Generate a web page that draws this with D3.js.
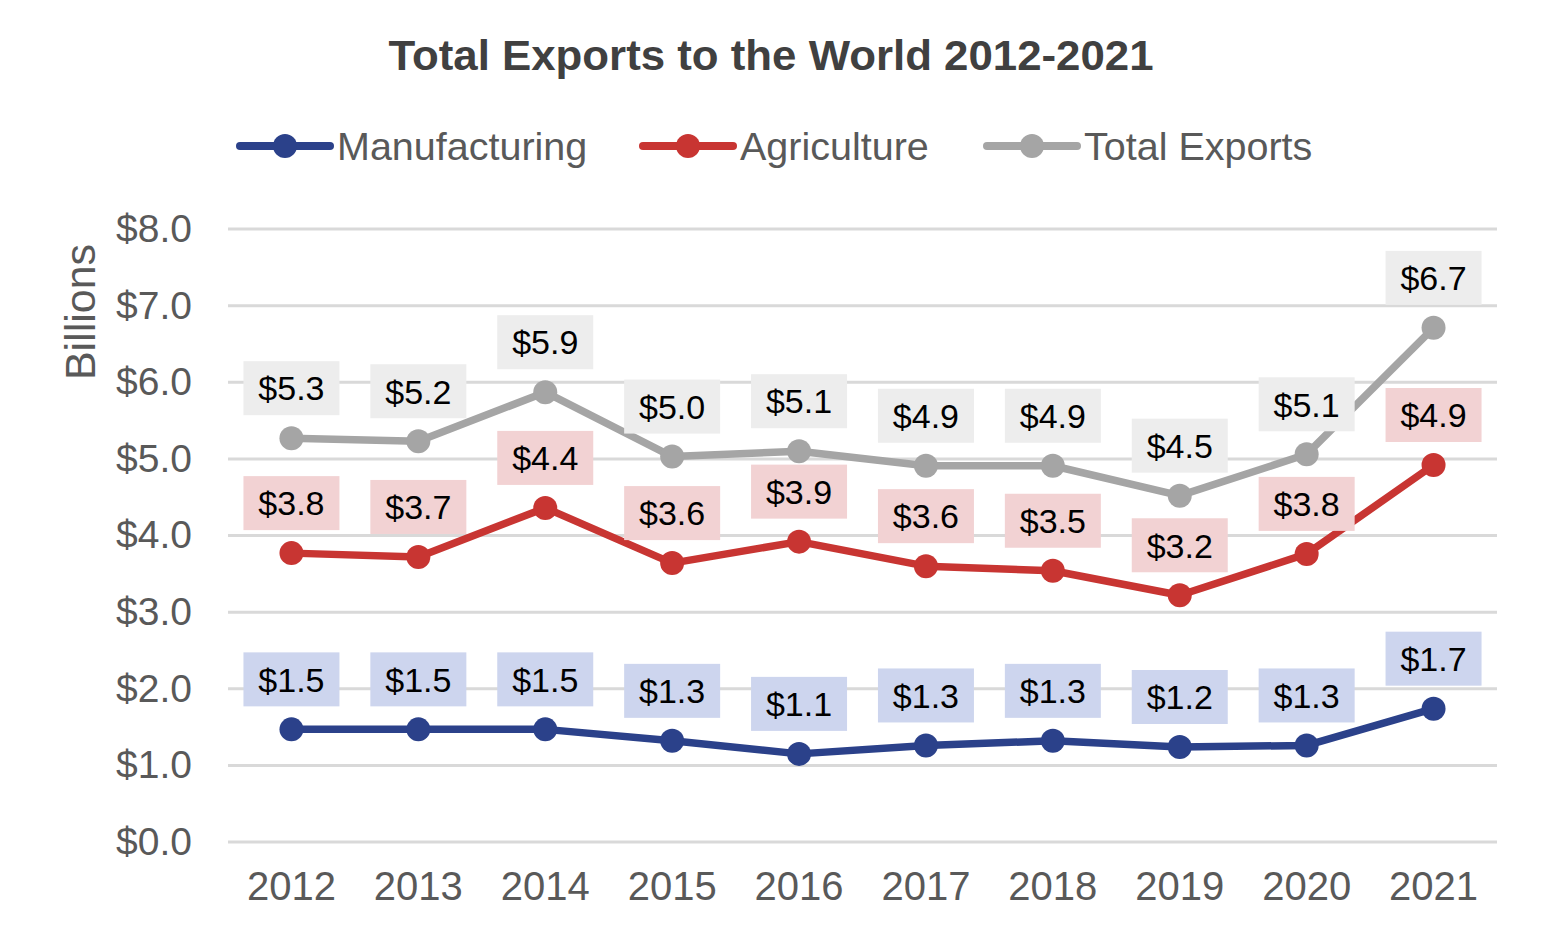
<!DOCTYPE html>
<html><head><meta charset="utf-8">
<script src="https://cdn.jsdelivr.net/npm/d3@7"></script>
<style>body{margin:0;background:#fff}svg{font-family:"Liberation Sans",Arial,sans-serif}</style>
</head><body>
<svg id="c" width="1544" height="936"></svg>
<script>
const years = ["2012","2013","2014","2015","2016","2017","2018","2019","2020","2021"];
const manufacturing = [1.47,1.47,1.47,1.32,1.15,1.26,1.32,1.24,1.26,1.74];
const agriculture = [3.77,3.72,4.36,3.64,3.92,3.60,3.54,3.22,3.76,4.92];
const totalExports = [5.27,5.23,5.87,5.03,5.10,4.91,4.91,4.52,5.06,6.71];
const yTicks = [0,1,2,3,4,5,6,7,8];
const seriesNames = ["Manufacturing","Agriculture","Total Exports"];
const seriesColors = ["#2b418a","#c83532","#a5a5a5"];
const labelFills = ["#cdd5ee","#f2d2d3","#ededed"];

const svg = d3.select("#c");
const x = d3.scaleBand().domain(years).range([228,1497]);
const y = d3.scaleLinear().domain([0,8]).range([842,229]);

svg.append("text").attr("x",771).attr("y",70).attr("text-anchor","middle")
  .attr("font-size",43).attr("font-weight","bold").attr("fill","#404040")
  .attr("textLength",765).attr("lengthAdjust","spacingAndGlyphs")
  .text("Total Exports to the World 2012-2021");

svg.append("g").selectAll("line").data(yTicks).join("line")
  .attr("x1",228).attr("x2",1497).attr("y1",d=>y(d)).attr("y2",d=>y(d))
  .attr("stroke","#d9d9d9").attr("stroke-width",3);

const yAxis = d3.axisLeft(y).tickValues(yTicks).tickFormat(d=>"$"+d3.format(".1f")(d)).tickSize(0).tickPadding(36);
const ya = svg.append("g").attr("transform","translate(228,0)").call(yAxis);
ya.select(".domain").remove();
ya.selectAll("text").attr("font-size",39).attr("fill","#595959").attr("font-family","Liberation Sans, Arial, sans-serif");

const xAxis = d3.axisBottom(x).tickSize(0).tickPadding(30);
const xa = svg.append("g").attr("transform","translate(0,842)").call(xAxis);
xa.select(".domain").remove();
xa.selectAll("text").attr("font-size",40).attr("fill","#595959").attr("font-family","Liberation Sans, Arial, sans-serif");

svg.append("text").attr("transform","translate(95,312) rotate(-90)").attr("text-anchor","middle")
  .attr("font-size",43).attr("fill","#595959").text("Billions");

const cx = d => x(d)+x.bandwidth()/2;
const allSeries = [manufacturing, agriculture, totalExports];
allSeries.forEach((vals,i)=>{
  const data = years.map((yr,j)=>({yr, v:vals[j]}));
  const g = svg.append("g");
  g.append("path").datum(data)
    .attr("d", d3.line().x(d=>cx(d.yr)).y(d=>y(d.v)))
    .attr("fill","none").attr("stroke",seriesColors[i]).attr("stroke-width",7.5).attr("stroke-linejoin","round");
  g.selectAll("circle").data(data).join("circle")
    .attr("cx",d=>cx(d.yr)).attr("cy",d=>y(d.v)).attr("r",12).attr("fill",seriesColors[i]);
  const lg = g.selectAll("g.lbl").data(data).join("g").attr("class","lbl")
    .attr("transform",d=>`translate(${cx(d.yr)},${y(d.v)-50})`);
  lg.append("rect").attr("x",-48).attr("y",-27).attr("width",96).attr("height",54).attr("fill",labelFills[i]);
  lg.append("text").attr("text-anchor","middle").attr("dy","0.36em").attr("font-size",34).attr("fill","#000")
    .text(d=>"$"+d3.format(".1f")(d.v));
});

const legX = [240,643,987];
seriesNames.forEach((n,i)=>{
  const g = svg.append("g").attr("transform",`translate(${legX[i]},146)`);
  g.append("line").attr("x1",0).attr("x2",90).attr("stroke",seriesColors[i]).attr("stroke-width",8).attr("stroke-linecap","round");
  g.append("circle").attr("cx",45).attr("r",12).attr("fill",seriesColors[i]);
  g.append("text").attr("x",97).attr("dy","0.36em").attr("font-size",39.5).attr("fill","#595959").text(n);
});
</script>
</body></html>
